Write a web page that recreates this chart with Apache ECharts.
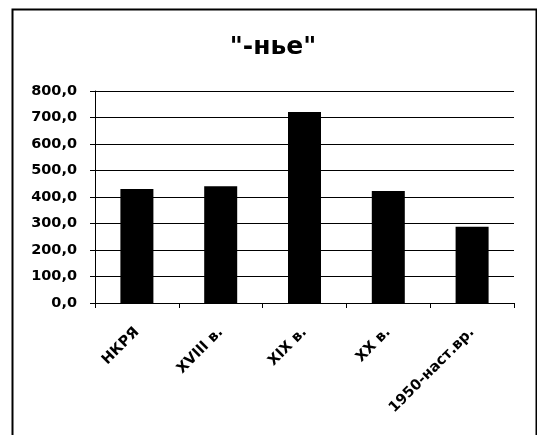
<!DOCTYPE html>
<html>
<head>
<meta charset="utf-8">
<script src="https://cdn.jsdelivr.net/npm/echarts@6/dist/echarts.min.js"></script>
<style>html,body{margin:0;padding:0;background:#fff;}#c{width:537px;height:435px;}</style>
</head>
<body>
<div id="c"></div>
<script>
var titleText = '"-нье"';
var categories = ['НКРЯ', 'XVIII в.', 'XIX в.', 'XX в.', '1950-наст.вр.'];
var values = [430, 441, 721, 423, 288];
var yTicks = { min: 0, max: 800, interval: 100 };

var chart = echarts.init(document.getElementById('c'), null, { renderer: 'canvas' });
var font = 'DejaVu Sans';
chart.setOption({
  animation: false,
  backgroundColor: '#fff',
  title: {
    text: titleText,
    left: 268, top: 30, textAlign: 'center',
    textStyle: { fontFamily: font, fontWeight: 'bold', fontSize: 25, color: '#000' }
  },
  graphic: [{
    type: 'rect', left: 10, top: 7,
    shape: { width: 524, height: 450 },
    style: { fill: null, stroke: '#000', lineWidth: 2 }, silent: true
  }],
  grid: { left: 95, right: 23, top: 91, bottom: 132, containLabel: false },
  xAxis: {
    type: 'category', data: categories,
    axisLine: { lineStyle: { color: '#000', width: 1 } },
    axisTick: { show: true, length: 5, lineStyle: { color: '#000' } },
    axisLabel: { rotate: 45, margin: 27, interval: 0, color: '#000', fontFamily: font, fontWeight: 'bold', fontSize: 14.5 }
  },
  yAxis: {
    type: 'value', min: yTicks.min, max: yTicks.max, interval: yTicks.interval,
    axisLine: { show: true, lineStyle: { color: '#000', width: 1 } },
    axisTick: { show: true, length: 5, lineStyle: { color: '#000' } },
    splitLine: { show: true, lineStyle: { color: '#000', width: 1 } },
    axisLabel: { margin: 18, color: '#000', fontFamily: font, fontWeight: 'bold', fontSize: 14.5,
      formatter: function (v) { return v.toFixed(1).replace('.', ','); } }
  },
  series: [{
    type: 'bar', data: values, barWidth: 33,
    itemStyle: { color: '#000' }
  }]
});
</script>
</body>
</html>
